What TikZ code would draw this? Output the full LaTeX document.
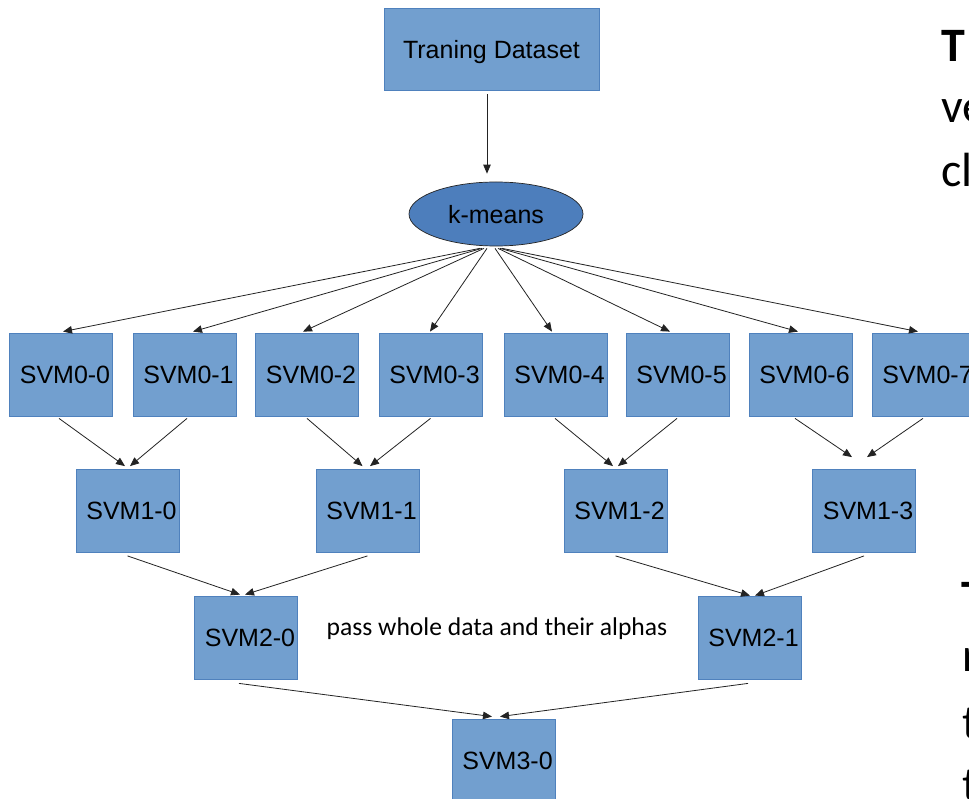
\documentclass[tikz,border=0pt]{standalone}
\usepackage{fontspec}
\setmainfont{Liberation Sans}
\newfontfamily\slidefont{Carlito}
\usetikzlibrary{arrows.meta,shapes.geometric}
\definecolor{boxfill}{RGB}{114,159,207}
\definecolor{boxline}{RGB}{79,129,189}
\definecolor{ovalfill}{RGB}{77,126,188}
\definecolor{linegray}{RGB}{35,35,35}

\begin{document}
\begin{tikzpicture}[x=1pt,y=-1pt,
  box/.style={draw=boxline, fill=boxfill, line width=0.8pt,
    minimum width=103pt, minimum height=83pt, inner sep=0pt,
    font=\fontsize{25}{30}\selectfont},
  oval/.style={ellipse, draw=linegray, fill=ovalfill, line width=0.7pt,
    minimum width=174pt, minimum height=64pt, inner sep=0pt,
    font=\fontsize{25}{30}\selectfont},
  arr/.style={draw=linegray, line width=0.8pt, -{Triangle[length=9pt,width=7.5pt]}},
  side/.style={anchor=base west, inner sep=0pt, font=\slidefont\fontsize{48}{56}\selectfont},
  note/.style={inner sep=0pt, font=\slidefont\fontsize{25.6}{30}\selectfont}]

\path[fill=white] (0,0) rectangle (969,799);
\useasboundingbox (0,0) rectangle (969,799);
\clip (0,0) rectangle (969,799);

% input and clustering
\node[box, minimum width=215pt, minimum height=82pt, text depth=0pt] (td) at (491.5,49) {Traning Dataset};
\node[oval, text depth=0pt] (km) at (496,214) {k-means};

% first level of SVMs
\node[box] (s00) at (61,374.5)    {\hspace*{8pt}SVM0-0};
\node[box] (s01) at (184.5,374.5) {\hspace*{8pt}SVM0-1};
\node[box] (s02) at (307,374.5)   {\hspace*{8pt}SVM0-2};
\node[box] (s03) at (430.5,374.5) {\hspace*{8pt}SVM0-3};
\node[box] (s04) at (555.5,374.5) {\hspace*{8pt}SVM0-4};
\node[box] (s05) at (677.5,374.5) {\hspace*{8pt}SVM0-5};
\node[box] (s06) at (800.5,374.5) {\hspace*{8pt}SVM0-6};
\node[box] (s07) at (923.5,374.5) {\hspace*{8pt}SVM0-7};

% second level
\node[box] (s10) at (127.5,511) {\hspace*{8pt}SVM1-0};
\node[box] (s11) at (367.5,511) {\hspace*{8pt}SVM1-1};
\node[box] (s12) at (615.5,511) {\hspace*{8pt}SVM1-2};
\node[box] (s13) at (864,511)   {\hspace*{8pt}SVM1-3};

% third and fourth level
\node[box] (s20) at (246,637.5)   {\hspace*{8pt}SVM2-0};
\node[box] (s21) at (749.5,637.5) {\hspace*{8pt}SVM2-1};
\node[box] (s30) at (503.5,760.5) {\hspace*{8pt}SVM3-0};

\node[note] (pass) at (497,629) {pass whole data and their alphas};

% connectors
\draw[arr] ([xshift=-4.5pt,yshift=-4pt]td.south) -- ([xshift=-9pt,yshift=8pt]km.north);

\draw[arr] ([xshift=-16pt,yshift=-2pt]km.south) -- ([xshift=2pt,yshift=1pt]s00.north);
\draw[arr] ([xshift=-14pt,yshift=-2pt]km.south) -- ([xshift=8.5pt,yshift=1pt]s01.north);
\draw[arr] ([xshift=-12pt,yshift=-2pt]km.south) -- ([xshift=-4pt,yshift=1pt]s02.north);
\draw[arr] ([xshift=-9pt,yshift=-2pt]km.south) -- ([xshift=-0.5pt,yshift=1pt]s03.north);
\draw[arr] ([xshift=-1pt,yshift=-2pt]km.south) -- ([xshift=-3.5pt,yshift=1pt]s04.north);
\draw[arr] ([xshift=2pt,yshift=-2pt]km.south) -- ([xshift=-7.5pt,yshift=1pt]s05.north);
\draw[arr] ([xshift=4pt,yshift=-2pt]km.south) -- ([xshift=-2.5pt,yshift=1pt]s06.north);
\draw[arr] ([xshift=6pt,yshift=-2pt]km.south) -- ([xshift=-5.5pt,yshift=1pt]s07.north);

\draw[arr] ([xshift=-2pt,yshift=-2pt]s00.south) -- ([xshift=-2.5pt,yshift=3pt]s10.north);
\draw[arr] ([xshift=2.5pt,yshift=-2pt]s01.south) -- ([xshift=2.5pt,yshift=3pt]s10.north);
\draw[arr] ([xshift=0pt,yshift=-2pt]s02.south) -- ([xshift=-5pt,yshift=3pt]s11.north);
\draw[arr] ([xshift=0pt,yshift=-2pt]s03.south) -- ([xshift=2.5pt,yshift=3pt]s11.north);
\draw[arr] ([xshift=-0.5pt,yshift=-2pt]s04.south) -- ([xshift=-2.5pt,yshift=3pt]s12.north);
\draw[arr] ([xshift=-0.5pt,yshift=-2pt]s05.south) -- ([xshift=2.5pt,yshift=3pt]s12.north);
\draw[arr] ([xshift=-5.5pt,yshift=-2pt]s06.south) -- ([xshift=-12pt,yshift=12pt]s13.north);
\draw[arr] ([xshift=-0.5pt,yshift=-2pt]s07.south) -- ([xshift=3pt,yshift=12pt]s13.north);

\draw[arr] ([yshift=-3pt]s10.south) -- ([xshift=-6pt,yshift=1pt]s20.north);
\draw[arr] ([yshift=-3pt]s11.south) -- ([xshift=-1pt,yshift=1pt]s20.north);
\draw[arr] ([yshift=-3pt]s12.south) -- ([xshift=0.5pt,yshift=0pt]s21.north);
\draw[arr] ([yshift=-3pt]s13.south) -- ([xshift=5.5pt,yshift=0pt]s21.north);

\draw[arr] ([xshift=-7pt,yshift=-4pt]s20.south) -- ([xshift=-11.5pt,yshift=2pt]s30.north);
\draw[arr] ([xshift=-1.5pt,yshift=-4pt]s21.south) -- ([xshift=-3.5pt,yshift=2pt]s30.north);

% slide text running past the right edge
\node[side] (t1) at (941,62)  {\bfseries T};
\node[side] (t2) at (941,123) {ve};
\node[side] (t3) at (941,187) {cl};
\node[side] (t4) at (961,613) {\bfseries T};
\node[side] (t5) at (962.5,671) {r};
\node[side] (t6) at (962,738) {t};
\node[side] (t7) at (962,800) {t};
\end{tikzpicture}
\end{document}
